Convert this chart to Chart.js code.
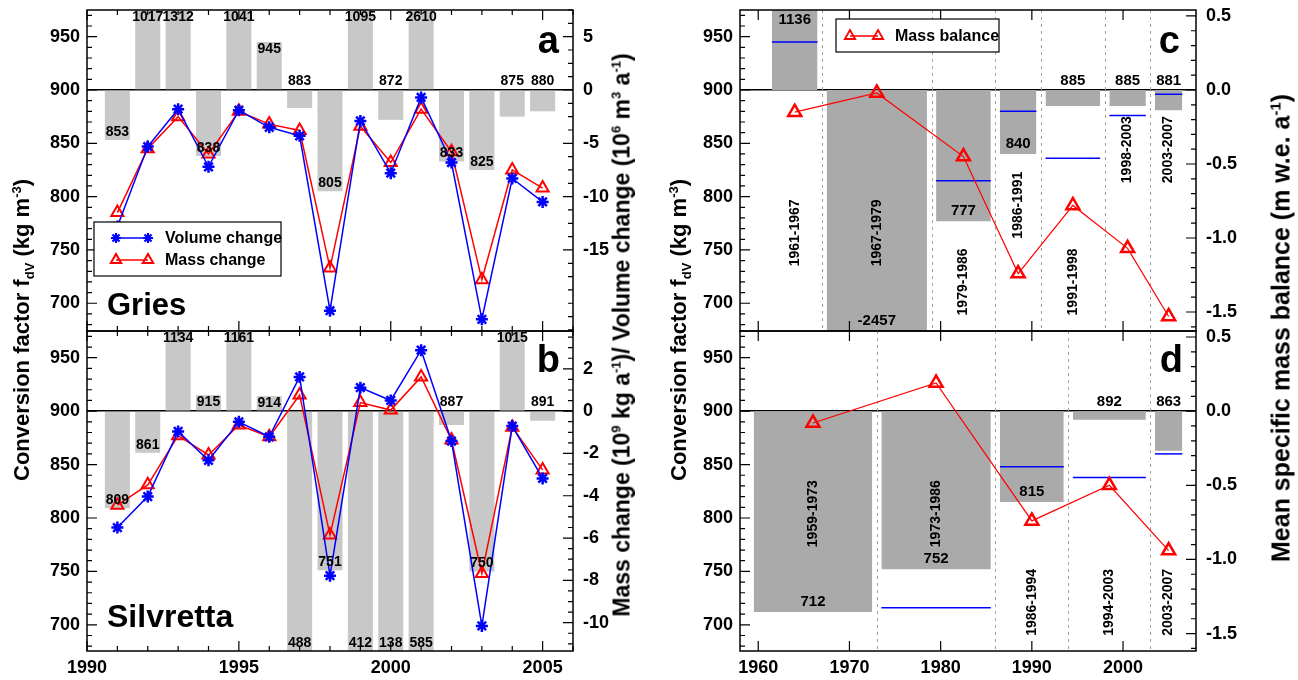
<!DOCTYPE html>
<html>
<head>
<meta charset="utf-8">
<title>Conversion factor fdV – Gries and Silvretta</title>
<script src="https://cdn.jsdelivr.net/npm/chart.js@4.4.1/dist/chart.umd.min.js"></script>
<style>
  html, body { margin:0; padding:0; background:#fff; }
  body { width:1298px; height:680px; position:relative; overflow:hidden; font-family:'Liberation Sans', Arial, Helvetica, sans-serif; }
  canvas.layer { position:absolute; left:0; top:0; }
  .ttl { position:absolute; font-weight:bold; font-size:22px; white-space:nowrap; color:#000; line-height:1;
         transform:translate(-50%,-50%) rotate(-90deg); }
  .ttl sup, .ttl sub { font-size:13px; line-height:0; }
  .ttl.big { font-size:25px; }
  .ttl.big sup { font-size:15px; }
</style>
</head>
<body>
<canvas id="panelA" class="layer" width="1298" height="680"></canvas>
<canvas id="panelB" class="layer" width="1298" height="680"></canvas>
<canvas id="panelC" class="layer" width="1298" height="680"></canvas>
<canvas id="panelD" class="layer" width="1298" height="680"></canvas>
<div class="ttl" style="left:22px; top:330px;">Conversion factor f<sub>dV</sub> (kg m<sup>-3</sup>)</div>
<div class="ttl" style="left:622px; top:335px; font-size:23px;">Mass change (10<sup>9</sup> kg a<sup>-1</sup>)/ Volume change (10<sup>6</sup> m<sup>3</sup> a<sup>-1</sup>)</div>
<div class="ttl" style="left:679px; top:330px;">Conversion factor f<sub>dV</sub> (kg m<sup>-3</sup>)</div>
<div class="ttl big" style="left:1281px; top:328px;">Mean specific mass balance (m w.e. a<sup>-1</sup>)</div>
<script>
// ---------------- data ----------------
const years = [1991,1992,1993,1994,1995,1996,1997,1998,1999,2000,2001,2002,2003,2004,2005];

const griesVolumeFdv = [772,847,882,828,881,865,857,693,871,822,893,832,685,817,795];
const griesMassFdv   = [785,845,875,840,880,868,862,733,866,832,882,842,722,825,808];
const griesAnnualFdv = [853,1017,1312,838,1041,945,883,805,1095,872,2610,833,825,875,880];

const silvVolumeFdv = [791,820,881,854,890,876,932,746,922,910,957,872,699,886,837];
const silvMassFdv   = [812,831,877,859,887,876,915,784,908,901,932,873,748,885,845];
const silvAnnualFdv = [809,861,1134,915,1161,914,488,751,412,138,585,887,750,1015,891];

const griesPeriods      = ['1961-1967','1967-1979','1979-1986','1986-1991','1991-1998','1998-2003','2003-2007'];
const griesStart        = [1961,1967,1979,1986,1991,1998,2003];
const griesEnd          = [1967,1979,1986,1991,1998,2003,2007];
const griesPeriodFdv    = [1136,-2457,777,840,885,885,881];
const griesPeriodFdvAlt = [945,null,815,880,836,876,896];
const griesBalanceYear  = [1964,1973,1982.5,1988.5,1994.5,2000.5,2005];
const griesBalance      = [-0.15,-0.02,-0.45,-1.24,-0.78,-1.07,-1.53];

const silvPeriods      = ['1959-1973','1973-1986','1986-1994','1994-2003','2003-2007'];
const silvStart        = [1959,1973,1986,1994,2003];
const silvEnd          = [1973,1986,1994,2003,2007];
const silvPeriodFdv    = [712,752,815,892,863];
const silvPeriodFdvAlt = [null,716,848,838,860];
const silvBalanceYear  = [1966,1979.5,1990,1998.5,2005];
const silvBalance      = [-0.08,0.19,-0.74,-0.50,-0.94];

// tick labels
const leftTicks    = [700,750,800,850,900,950];
const xTicksAB     = [1990,1995,2000,2005];
const rightTicksA  = [-15,-10,-5,0,5];
const rightTicksB  = [-10,-8,-6,-4,-2,0,2];
const xTicksCD     = [1960,1970,1980,1990,2000];
const rightTicksCD = [-1.5,-1.0,-0.5,0.0,0.5];

// ---------------- styling / helpers ----------------
const FONT = "'Liberation Sans', Arial, Helvetica, sans-serif";
const BLUE = '#0000ff', RED = '#ff0000';
const INSET = 0.5;     // gap between period bars and period boundaries (years)
const KB = 19.8;       // left-axis units per right-axis unit, panel b
const KCD = 138.8;     // left-axis units per right-axis unit, panels c/d

function fixSize(size){ return s => { if (s.isHorizontal()) s.height = size; else s.width = size;
  s.paddingTop = 0; s.paddingBottom = 0; s.paddingLeft = 0; s.paddingRight = 0; }; }
function setTicks(list){ return s => { s.ticks = list.map(v => ({value:v})); }; }
const tickFont = {family:FONT, size:18, weight:'bold'};

function leftAxis(min, max){
  return { type:'linear', position:'left', min, max,
    afterBuildTicks:setTicks(leftTicks), afterFit:fixSize(70),
    ticks:{ color:'#000', font:tickFont, padding:7, callback:v => String(v) },
    grid:{ drawTicks:false, lineWidth:1.5, color:c => (c.tick && c.tick.value === 900) ? '#000' : 'rgba(0,0,0,0)' },
    border:{ display:false } };
}
function rightAxis(min, max, list, dec){
  return { type:'linear', position:'right', min, max,
    afterBuildTicks:setTicks(list), afterFit:fixSize(60),
    ticks:{ color:'#000', font:tickFont, padding:10, callback:v => dec ? Number(v).toFixed(dec) : String(v) },
    grid:{ display:false, drawTicks:false }, border:{ display:false } };
}
function xAxis(min, max, list, show){
  return { type:'linear', position:'bottom', min, max, offset:false, display:show,
    afterBuildTicks:setTicks(list), afterFit:fixSize(show ? 29 : 0),
    ticks:{ color:'#000', font:tickFont, padding:6, maxRotation:0, autoSkip:false, callback:v => String(v) },
    grid:{ display:false, drawTicks:false }, border:{ display:false } };
}
function seriesLine(label, xs, values, color, style, order, axis, lw, pr, pbw){
  return { type:'line', label, data: xs.map((x,i) => ({x, y:values[i]})), yAxisID:axis, xAxisID:'x',
    borderColor:color, borderWidth:lw, tension:0, fill:false,
    pointStyle:style, pointRadius:pr, pointBorderWidth:pbw, pointBorderColor:color,
    pointBackgroundColor: style === 'triangle' ? 'rgba(0,0,0,0)' : color, order, clip:0 };
}
function annualBars(values){
  return { type:'bar', label:'fdV', data: years.map((x,i) => ({x, y:values[i]})), base:900,
    backgroundColor:'#c8c8c8', borderWidth:0, barPercentage:0.825, categoryPercentage:1,
    yAxisID:'y', xAxisID:'x', order:5, clip:0 };
}
function periodBars(starts, ends, values){
  return values.map((v,i) => ({ type:'line', label:'period', data:[{x:starts[i]+INSET, y:v},{x:ends[i]-INSET, y:v}],
    fill:{value:900}, backgroundColor:'#aaaaaa', borderWidth:0, borderColor:'rgba(0,0,0,0)', pointRadius:0,
    yAxisID:'y', xAxisID:'x', order:6, clip:0 }));
}
function periodAlt(starts, ends, values){
  const out = [];
  values.forEach((v,i) => { if (v === null) return;
    out.push({ type:'line', label:'alt', data:[{x:starts[i]+INSET, y:v},{x:ends[i]-INSET, y:v}],
      borderColor:BLUE, borderWidth:1.5, pointRadius:0, fill:false, yAxisID:'y', xAxisID:'x', order:4, clip:0 }); });
  return out;
}

// ---------------- plugins ----------------
const vLines = { id:'vLines',
  beforeDatasetsDraw(chart, args, o){
    if (!o || !o.xs) return;
    const {ctx, chartArea:a, scales} = chart;
    ctx.save(); ctx.strokeStyle = '#a0a0a0'; ctx.lineWidth = 1; ctx.setLineDash([3,4]);
    o.xs.forEach(v => { const p = Math.round(scales.x.getPixelForValue(v)) + 0.5;
      ctx.beginPath(); ctx.moveTo(p, a.top); ctx.lineTo(p, a.bottom); ctx.stroke(); });
    ctx.restore();
  } };

const frameTicks = { id:'frameTicks',
  afterDatasetsDraw(chart, args, o){
    if (!o || !o.on) return;
    const {ctx, chartArea:a, scales} = chart;
    const marks = (scale, step, anchor, majors) => {
      const out = [];
      if (!step) { majors.forEach(v => out.push([v, true])); return out; }
      const k0 = Math.ceil((scale.min - anchor)/step - 1e-9), k1 = Math.floor((scale.max - anchor)/step + 1e-9);
      for (let k = k0; k <= k1; k++) { const v = anchor + k*step; out.push([v, majors.some(m => Math.abs(m - v) < 1e-6)]); }
      return out;
    };
    ctx.save(); ctx.strokeStyle = '#000'; ctx.lineWidth = 1.2; ctx.setLineDash([]);
    ctx.beginPath();
    marks(scales.x, o.xMinor, o.xAnchor, o.xMajors).forEach(([v,maj]) => {
      const p = scales.x.getPixelForValue(v), L = maj ? o.major : o.minor;
      ctx.moveTo(p, a.bottom); ctx.lineTo(p, a.bottom - L); ctx.moveTo(p, a.top); ctx.lineTo(p, a.top + L); });
    marks(scales.y, o.yMinor, 900, o.yMajors).forEach(([v,maj]) => {
      const p = scales.y.getPixelForValue(v), L = maj ? o.major : o.minor;
      ctx.moveTo(a.left, p); ctx.lineTo(a.left + L, p); });
    marks(scales.y2, o.y2Minor, 0, o.y2Majors).forEach(([v,maj]) => {
      const p = scales.y2.getPixelForValue(v), L = maj ? o.major : o.minor;
      ctx.moveTo(a.right, p); ctx.lineTo(a.right - L, p); });
    ctx.stroke();
    ctx.lineWidth = 1.5; ctx.strokeRect(a.left, a.top, a.right - a.left, a.bottom - a.top);
    ctx.restore();
  } };

const barLabels = { id:'barLabels',
  afterDatasetsDraw(chart, args, o){
    if (!o || !o.values) return;
    const {ctx, chartArea:a, scales} = chart;
    const ys = scales.y, zero = ys.getPixelForValue(900);
    ctx.save(); ctx.font = 'bold ' + o.size + 'px ' + FONT; ctx.fillStyle = '#000';
    ctx.textAlign = 'center'; ctx.textBaseline = 'middle';
    o.values.forEach((v,i) => {
      const x = scales.x.getPixelForValue(o.xs[i]);
      const end = Math.max(a.top, Math.min(a.bottom, ys.getPixelForValue(v)));
      let y;
      if (v >= 900) y = end + o.posInset;
      else if (end - zero >= o.minLen) y = end - o.negInset;
      else y = zero - o.above;
      ctx.fillText(String(v), x, y);
    });
    ctx.restore();
  } };

const periodText = { id:'periodText',
  afterDatasetsDraw(chart, args, o){
    if (!o || !o.labels) return;
    const {ctx, scales} = chart;
    ctx.save(); ctx.font = 'bold ' + o.size + 'px ' + FONT; ctx.fillStyle = '#000';
    ctx.textAlign = 'center'; ctx.textBaseline = 'middle';
    o.labels.forEach((t,i) => {
      const x = scales.x.getPixelForValue(o.xs[i]), y = scales.y.getPixelForValue(o.ys[i]);
      ctx.save(); ctx.translate(x, y); ctx.rotate(-Math.PI/2); ctx.fillText(t, 0, 0); ctx.restore();
    });
    ctx.restore();
  } };

function drawMarker(ctx, style, x, y, r){
  ctx.beginPath();
  if (style === 'star') {
    for (let k = 0; k < 4; k++) { const ang = k*Math.PI/4;
      ctx.moveTo(x - r*Math.cos(ang), y - r*Math.sin(ang)); ctx.lineTo(x + r*Math.cos(ang), y + r*Math.sin(ang)); }
  } else {
    for (let k = 0; k < 3; k++) { const ang = -Math.PI/2 + k*2*Math.PI/3;
      const px = x + r*Math.cos(ang), py = y + r*Math.sin(ang); if (k === 0) ctx.moveTo(px, py); else ctx.lineTo(px, py); }
    ctx.closePath();
  }
  ctx.stroke();
}

const boxLegend = { id:'boxLegend',
  afterDraw(chart, args, o){
    if (!o || !o.items) return;
    const {ctx, chartArea:a} = chart;
    const x0 = a.left + o.x, y0 = a.top + o.y;
    ctx.save();
    ctx.fillStyle = '#fff'; ctx.fillRect(x0, y0, o.w, o.h);
    ctx.strokeStyle = '#000'; ctx.lineWidth = 1.2; ctx.strokeRect(x0, y0, o.w, o.h);
    ctx.font = 'bold 16px ' + FONT; ctx.textBaseline = 'middle'; ctx.textAlign = 'left';
    o.items.forEach((it,i) => {
      const y = y0 + o.rowY[i];
      ctx.strokeStyle = it.color; ctx.lineWidth = 1.5;
      ctx.beginPath(); ctx.moveTo(x0 + o.lx0, y); ctx.lineTo(x0 + o.lx1, y); ctx.stroke();
      ctx.lineWidth = it.bw;
      drawMarker(ctx, it.style, x0 + o.lx0, y, it.r); drawMarker(ctx, it.style, x0 + o.lx1, y, it.r);
      ctx.fillStyle = '#000'; ctx.fillText(it.label, x0 + o.tx, y + 1);
    });
    ctx.restore();
  } };

const panelText = { id:'panelText',
  afterDraw(chart, args, o){
    if (!o || !o.items) return;
    const {ctx, chartArea:a} = chart;
    ctx.save(); ctx.fillStyle = '#000'; ctx.textBaseline = 'alphabetic';
    o.items.forEach(it => {
      ctx.font = 'bold ' + it.size + 'px ' + FONT; ctx.textAlign = it.align;
      const x = it.align === 'right' ? a.right - it.dx : a.left + it.dx;
      ctx.fillText(it.text, x, a.top + it.dy);
    });
    ctx.restore();
  } };

Chart.register(vLines, frameTicks, barLabels, periodText, boxLegend, panelText);

function baseOptions(padding, scales, plugins){
  return { responsive:false, animation:false, devicePixelRatio:1, events:[],
    layout:{ padding, autoPadding:false }, scales,
    plugins: Object.assign({ legend:{display:false}, tooltip:{enabled:false} }, plugins) };
}

// ---------------- panel a : Gries annual ----------------
new Chart(document.getElementById('panelA'), {
  type:'bar',
  data:{ datasets:[
    seriesLine('Volume change', years, griesVolumeFdv, BLUE, 'star', 1, 'y', 1.5, 6, 2.5),
    seriesLine('Mass change', years, griesMassFdv, RED, 'triangle', 2, 'y', 1.5, 7, 2),
    annualBars(griesAnnualFdv) ]},
  options: baseOptions({left:17, right:665, top:10, bottom:349},
    { x: xAxis(1990, 2006, xTicksAB, false), y: leftAxis(674, 975), y2: rightAxis((674-900)/10, (975-900)/10, rightTicksA, 0) },
    { frameTicks:{ on:true, xMinor:1, xAnchor:1990, xMajors:xTicksAB, yMinor:10, yMajors:leftTicks, y2Minor:1.25, y2Majors:rightTicksA, major:10, minor:5 },
      barLabels:{ values:griesAnnualFdv, xs:years, size:14, posInset:7, negInset:8, above:9, minLen:35 },
      boxLegend:{ x:7, y:212, w:187, h:54, lx0:22, lx1:54, tx:71, rowY:[16,38],
        items:[ {label:'Volume change', color:BLUE, style:'star', r:5, bw:2.2},
                {label:'Mass change', color:RED, style:'triangle', r:6, bw:2} ] },
      panelText:{ items:[ {text:'Gries', dx:20, dy:305, size:31, align:'left'}, {text:'a', dx:14, dy:43, size:38, align:'right'} ] } })
});

// ---------------- panel b : Silvretta annual ----------------
new Chart(document.getElementById('panelB'), {
  type:'bar',
  data:{ datasets:[
    seriesLine('Volume change', years, silvVolumeFdv, BLUE, 'star', 1, 'y', 1.5, 6, 2.5),
    seriesLine('Mass change', years, silvMassFdv, RED, 'triangle', 2, 'y', 1.5, 7, 2),
    annualBars(silvAnnualFdv) ]},
  options: baseOptions({left:17, right:665, top:331, bottom:0},
    { x: xAxis(1990, 2006, xTicksAB, true), y: leftAxis(675.5, 975), y2: rightAxis((675.5-900)/KB, (975-900)/KB, rightTicksB, 0) },
    { frameTicks:{ on:true, xMinor:1, xAnchor:1990, xMajors:xTicksAB, yMinor:10, yMajors:leftTicks, y2Minor:0.5, y2Majors:rightTicksB, major:10, minor:5 },
      barLabels:{ values:silvAnnualFdv, xs:years, size:14, posInset:7, negInset:8, above:9, minLen:35 },
      panelText:{ items:[ {text:'Silvretta', dx:20, dy:296, size:32, align:'left'}, {text:'b', dx:13, dy:41, size:38, align:'right'} ] } })
});

// ---------------- panel c : Gries periods ----------------
new Chart(document.getElementById('panelC'), {
  type:'line',
  data:{ datasets:[
    seriesLine('Mass balance', griesBalanceYear, griesBalance, RED, 'triangle', 1, 'y2', 1.2, 7.5, 2.5),
    ...periodAlt(griesStart, griesEnd, griesPeriodFdvAlt),
    ...periodBars(griesStart, griesEnd, griesPeriodFdv) ]},
  options: baseOptions({left:670, right:42, top:10, bottom:349},
    { x: xAxis(1958, 2008, xTicksCD, false), y: leftAxis(674, 975), y2: rightAxis((674-900)/KCD, (975-900)/KCD, rightTicksCD, 1) },
    { vLines:{ xs: griesStart.slice(1) },
      frameTicks:{ on:true, xMinor:0, xAnchor:1960, xMajors:xTicksCD, yMinor:10, yMajors:leftTicks, y2Minor:0.1, y2Majors:rightTicksCD, major:10, minor:5 },
      barLabels:{ values:griesPeriodFdv, xs:griesStart.map((s,i) => (s + griesEnd[i])/2), size:15, posInset:10, negInset:10, above:9, minLen:50 },
      periodText:{ labels:griesPeriods, xs:griesStart.map((s,i) => (s + griesEnd[i])/2), ys:[766,766,720,792,720,844,844], size:14 },
      boxLegend:{ x:96, y:9, w:163, h:33, lx0:14, lx1:42, tx:59, rowY:[17],
        items:[ {label:'Mass balance', color:RED, style:'triangle', r:6, bw:1.8} ] },
      panelText:{ items:[ {text:'c', dx:16, dy:43, size:38, align:'right'} ] } })
});

// ---------------- panel d : Silvretta periods ----------------
new Chart(document.getElementById('panelD'), {
  type:'line',
  data:{ datasets:[
    seriesLine('Mass balance', silvBalanceYear, silvBalance, RED, 'triangle', 1, 'y2', 1.2, 7.5, 2.5),
    ...periodAlt(silvStart, silvEnd, silvPeriodFdvAlt),
    ...periodBars(silvStart, silvEnd, silvPeriodFdv) ]},
  options: baseOptions({left:670, right:42, top:331, bottom:0},
    { x: xAxis(1958, 2008, xTicksCD, true), y: leftAxis(675.5, 975), y2: rightAxis((675.5-900)/KCD, (975-900)/KCD, rightTicksCD, 1) },
    { vLines:{ xs: silvStart.slice(1) },
      frameTicks:{ on:true, xMinor:0, xAnchor:1960, xMajors:xTicksCD, yMinor:10, yMajors:leftTicks, y2Minor:0.1, y2Majors:rightTicksCD, major:10, minor:5 },
      barLabels:{ values:silvPeriodFdv, xs:silvStart.map((s,i) => (s + silvEnd[i])/2), size:15, posInset:10, negInset:10, above:9, minLen:50 },
      periodText:{ labels:silvPeriods, xs:silvStart.map((s,i) => (s + silvEnd[i])/2), ys:[804,804,721,721,721], size:14 },
      panelText:{ items:[ {text:'d', dx:13, dy:41, size:38, align:'right'} ] } })
});
</script>
</body>
</html>
